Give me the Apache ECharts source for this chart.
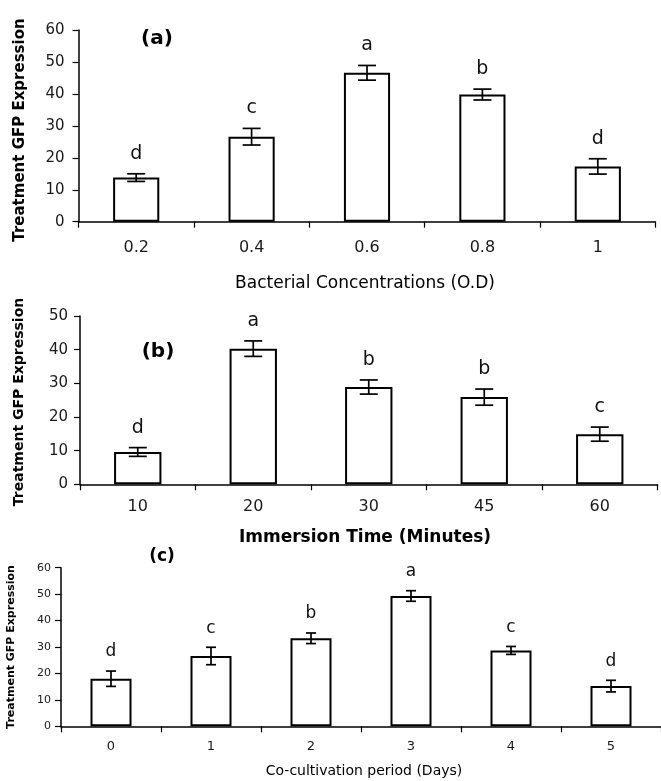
<!DOCTYPE html>
<html>
<head>
<meta charset="utf-8">
<script src="https://cdn.jsdelivr.net/npm/echarts@6/dist/echarts.min.js"></script>
<style>
html,body{margin:0;padding:0;background:#fff;}
#chart{width:661px;height:781px;}
</style>
</head>
<body>
<div id="chart"></div>
<script>
// Panel (a)
const catsA = ['0.2', '0.4', '0.6', '0.8', '1'];
const valsA = [13.8, 26.6, 46.6, 39.8, 17.3];
const errA = [1.2, 2.6, 2.3, 1.7, 2.4];
const letA = ['d', 'c', 'a', 'b', 'd'];
// Panel (b)
const catsB = ['10', '20', '30', '45', '60'];
const valsB = [9.6, 40.3, 28.9, 25.9, 14.9];
const errB = [1.3, 2.3, 2.1, 2.4, 2.1];
const letB = ['d', 'a', 'b', 'b', 'c'];
// Panel (c)
const catsC = ['0', '1', '2', '3', '4', '5'];
const valsC = [18.0, 26.6, 33.3, 49.3, 28.7, 15.2];
const errC = [2.9, 3.3, 2.0, 2.0, 1.5, 2.2];
const letC = ['d', 'c', 'b', 'a', 'c', 'd'];

const yTitle = 'Treatment GFP Expression';
const FONT = 'DejaVu Sans';

function errSeries(idx, vals, errs, lets, capW, letSize, letOff) {
  return {
    type: 'custom',
    xAxisIndex: idx, yAxisIndex: idx,
    z: 5,
    data: vals.map((v, i) => [i, v, errs[i]]),
    renderItem: function (params, api) {
      const i = api.value(0), v = api.value(1), e = api.value(2);
      const top = api.coord([i, v + e]);
      const bot = api.coord([i, v - e]);
      const st = { stroke: '#000', lineWidth: 1.7 };
      return {
        type: 'group',
        children: [
          { type: 'line', shape: { x1: top[0], y1: top[1], x2: bot[0], y2: bot[1] }, style: st },
          { type: 'line', shape: { x1: top[0] - capW / 2, y1: top[1], x2: top[0] + capW / 2, y2: top[1] }, style: st },
          { type: 'line', shape: { x1: bot[0] - capW / 2, y1: bot[1], x2: bot[0] + capW / 2, y2: bot[1] }, style: st },
          { type: 'text', style: { x: top[0], y: top[1] - letOff, text: lets[params.dataIndex], fill: '#111',
              font: letSize + 'px "' + FONT + '"', textAlign: 'center', textVerticalAlign: 'middle' } }
        ]
      };
    }
  };
}

function barSeries(idx, vals, w) {
  return {
    type: 'bar', xAxisIndex: idx, yAxisIndex: idx, data: vals, barWidth: w,
    itemStyle: { color: '#fff', borderColor: '#000', borderWidth: 2 },
    silent: true
  };
}

function xAx(idx, cats, fs, margin) {
  return {
    type: 'category', gridIndex: idx, data: cats,
    axisLine: { lineStyle: { color: '#000', width: 1.5 } },
    axisTick: { show: true, length: 6, lineStyle: { color: '#000', width: 1.2 } },
    axisLabel: { color: '#1a1a1a', fontSize: fs, fontFamily: FONT, margin: margin }
  };
}
function yAx(idx, max, fs, margin) {
  return {
    type: 'value', gridIndex: idx, min: 0, max: max, interval: 10,
    axisLine: { show: true, lineStyle: { color: '#000', width: 1.5 } },
    axisTick: { show: true, length: 6, lineStyle: { color: '#000', width: 1.2 } },
    splitLine: { show: false },
    axisLabel: { color: '#1a1a1a', fontSize: fs, fontFamily: FONT, margin: margin }
  };
}

function txt(x, y, text, size, bold, rot) {
  return {
    type: 'text', x: x, y: y, rotation: rot || 0,
    style: { text: text, fill: '#000', font: (bold ? 'bold ' : '') + size + 'px "' + FONT + '"',
      textAlign: 'center', textVerticalAlign: 'middle' }
  };
}

const chart = echarts.init(document.getElementById('chart'), null, { renderer: 'canvas' });
chart.setOption({
  animation: false,
  backgroundColor: '#fff',
  grid: [
    { left: 78.5, right: 5.5, top: 30, bottom: 559.3 },
    { left: 80, right: 3.5, top: 316, bottom: 296.7 },
    { left: 61, right: -5.5, top: 567.7, bottom: 54.7 }
  ],
  xAxis: [xAx(0, catsA, 16, 18), xAx(1, catsB, 16, 15), xAx(2, catsC, 13, 14)],
  yAxis: [yAx(0, 60, 15, 14), yAx(1, 50, 15, 12), yAx(2, 60, 11, 10)],
  series: [
    barSeries(0, valsA, '40%'), errSeries(0, valsA, errA, letA, 18, 19, 20),
    barSeries(1, valsB, '41%'), errSeries(1, valsB, errB, letB, 18, 19, 20),
    barSeries(2, valsC, '41%'), errSeries(2, valsC, errC, letC, 10, 17, 19)
  ],
  graphic: [
    txt(157, 39, '(a)', 20, true),
    txt(158, 352, '(b)', 20, true),
    txt(162, 557, '(c)', 17, true),
    txt(20, 130, yTitle, 15, true, Math.PI / 2),
    txt(19, 402, yTitle, 14, true, Math.PI / 2),
    txt(11, 647, yTitle, 11, true, Math.PI / 2),
    txt(365, 284, 'Bacterial Concentrations (O.D)', 17, false),
    txt(365, 538, 'Immersion Time (Minutes)', 17, true),
    txt(364, 771, 'Co-cultivation period (Days)', 14, false)
  ]
});
</script>
</body>
</html>
